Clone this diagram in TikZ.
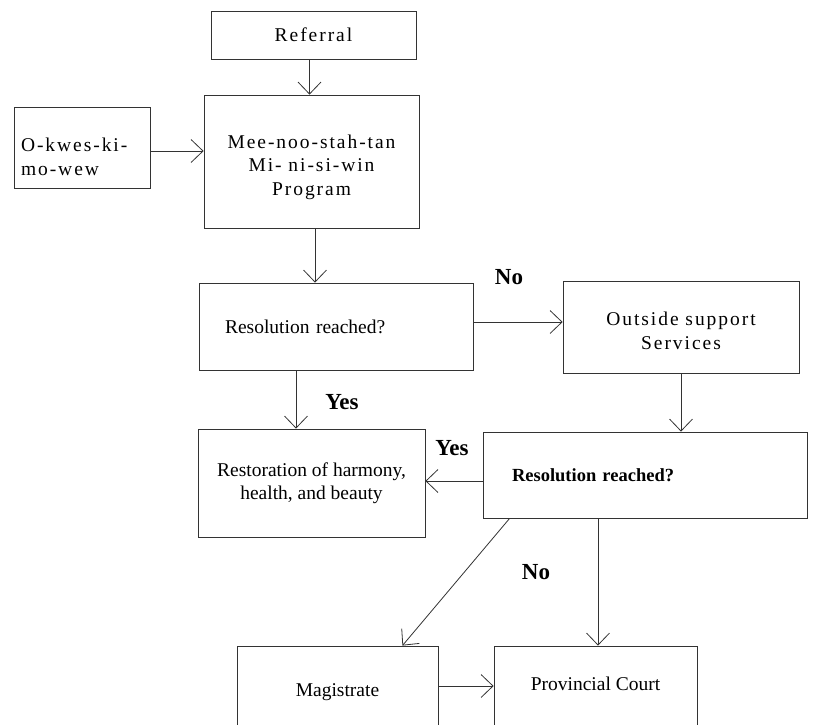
\documentclass[tikz,border=0pt]{standalone}
\usepackage{fontspec}
\setmainfont{Liberation Serif}
\newfontfamily\spacedfont[LetterSpace=10]{Liberation Serif}
\usetikzlibrary{arrows.meta}

\begin{document}
\begin{tikzpicture}[x=1pt,y=-1pt,font=\fontsize{19.5}{23.5}\selectfont,
 box/.style={draw=black!80,line width=.8pt,align=center,inner sep=2pt},
 wide/.style={font=\spacedfont\fontsize{19.5}{23.5}\selectfont},
 heavy/.style={font=\bfseries\fontsize{18.5}{22}\selectfont},
 ar/.style={-{Straight Barb[length=12pt,width=23pt]},line width=.8pt,draw=black!80},
 lab/.style={font=\bfseries\fontsize{23}{27}\selectfont,inner sep=0pt}]
\useasboundingbox (0,0) rectangle (816,724);
\clip (0,0) rectangle (816,724);
\node[box,wide,minimum width=205pt,minimum height=48pt] (ref) at (313.5,35) {Referral};
\node[box,wide,align=left,text width=122pt,inner xsep=7pt,minimum height=81pt,text height=32pt] (okw) at (82,147.5)
 {O-kwes-ki-\\mo-wew};
\node[box,wide,minimum width=215pt,minimum height=133pt,text height=72pt] (mee) at (311.5,161.5)
 {Mee-noo-stah-tan\\Mi- ni-si-win\\Program};
\node[box,align=left,text width=222pt,inner xsep=26pt,minimum height=87pt] (res1) at (336,326.5)
 {Resolution reached?};
\node[box,wide,minimum width=236pt,minimum height=92pt,text height=45pt] (out) at (681,327)
 {Outside support\\Services};
\node[box,minimum width=227pt,minimum height=108pt] (rest) at (311.5,483)
 {Restoration of harmony,\\health, and beauty};
\node[box,heavy,align=left,text width=266pt,inner xsep=29pt,minimum height=86pt] (res2) at (645,475)
 {Resolution reached?};
\node[box,minimum width=201pt,minimum height=92pt] (mag) at (337.5,692) {Magistrate};
\node[box,minimum width=203pt,minimum height=92pt,text depth=16pt] (prov) at (595.5,692) {Provincial Court};
\node[lab] (no1) at (509,277) {No};
\node[lab] (yes1) at (342,402) {Yes};
\node[lab] (yes2) at (452,448) {Yes};
\node[lab] (no2) at (536,572) {No};
\draw[ar] ([xshift=-4pt]ref.south) -- ([xshift=-4pt]ref.south |- mee.north);
\draw[ar] ([yshift=-3.5pt]okw.east) -- ([yshift=-3.5pt]okw.east -| mee.west);
\draw[ar] ([xshift=3.5pt]mee.south) -- ([xshift=3.5pt]mee.south |- res1.north);
\draw[ar] ([yshift=4.5pt]res1.east) -- ([yshift=4.5pt]res1.east -| out.west);
\draw[ar] (out.south) -- (out.south |- res2.north);
\draw[ar] ([xshift=-40pt]res1.south) -- ([xshift=-40pt]res1.south |- rest.north);
\draw[ar] ([yshift=-6pt]res2.west) -- ([yshift=-6pt]res2.west -| rest.east);
\draw[ar] ([xshift=27pt]res2.south west) -- ([xshift=-36pt]mag.north east);
\draw[ar] ([xshift=2.5pt]res2.south -| prov.north) -- ([xshift=2.5pt]prov.north);
\draw[ar] ([yshift=6pt]mag.east) -- ([yshift=6pt]mag.east -| prov.west);
\end{tikzpicture}
\end{document}
